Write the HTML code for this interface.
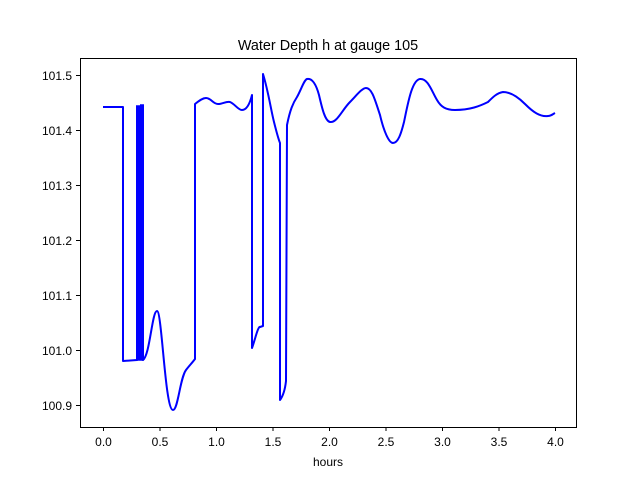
<!DOCTYPE html>
<html><head><style>body{margin:0;background:#fff}svg{display:block;font-family:"Liberation Sans","DejaVu Sans",sans-serif}</style></head>
<body>
<svg width="640" height="480" viewBox="0 0 640 480">
<rect width="640" height="480" fill="#fff"/>
<path d="M103,107 L123,107 L123,361 L137,360 L137,106 L138,360 L139,106 L140,360 L141,105 L142,360 L143,105 L143,360 C150,355 152,311 157,311 C162,311 165,410 173,410 C178,410 180,378 186,370 C189,366 192,363 195,359 L195,104 C200,100 203,98 206,98 C211,98 213,104 218,104 C223,104 226,101 230,102 C235,104 238,110 242,110 C247,110 250,103 252,95 L252,348 C255,340 258,326 260,327 L263,326 L263,74 C268,90 271,110 274,122 C276,130 278,138 280,143 L280,400 C283,396 285,390 286,381 L287,125 C290,110 293,103 297,97 C301,90 304,80 307,79 C312,78 316,84 319,95 C322,108 325,121 330,122 C337,123 342,110 350,102 C356,96 362,88 366,88 C372,88 375,100 380,115 C384,132 389,143 393,143 C398,143 401,134 404,122 C408,103 412,80 420,79 C428,78 432,92 437,100 C441,107 446,110 455,110 C470,110 480,106 488,102 C493,97 497,93 503,92 C510,92 517,96 525,104 C533,112 540,117 548,116 C551,116 553,114 555,113" fill="none" stroke="#0000ff" stroke-width="2" stroke-linejoin="round"/>
<rect x="80.5" y="58.5" width="496" height="369" fill="none" stroke="#000" stroke-width="1"/>
<g stroke="#000" stroke-width="1">
<line x1="103.5" y1="427" x2="103.5" y2="431"/><line x1="160" y1="427" x2="160" y2="431"/><line x1="216.5" y1="427" x2="216.5" y2="431"/><line x1="273" y1="427" x2="273" y2="431"/><line x1="329.5" y1="427" x2="329.5" y2="431"/><line x1="386" y1="427" x2="386" y2="431"/><line x1="442.5" y1="427" x2="442.5" y2="431"/><line x1="499" y1="427" x2="499" y2="431"/><line x1="555.5" y1="427" x2="555.5" y2="431"/>
<line x1="76" y1="75.5" x2="80" y2="75.5"/><line x1="76" y1="130.5" x2="80" y2="130.5"/><line x1="76" y1="185.5" x2="80" y2="185.5"/><line x1="76" y1="240.5" x2="80" y2="240.5"/><line x1="76" y1="295.5" x2="80" y2="295.5"/><line x1="76" y1="350.5" x2="80" y2="350.5"/><line x1="76" y1="405.5" x2="80" y2="405.5"/>
</g>
<g font-size="12" fill="#000" text-anchor="middle">
<text x="103.5" y="446">0.0</text><text x="160" y="446">0.5</text><text x="216.5" y="446">1.0</text><text x="273" y="446">1.5</text><text x="329.5" y="446">2.0</text><text x="386" y="446">2.5</text><text x="442.5" y="446">3.0</text><text x="499" y="446">3.5</text><text x="555.5" y="446">4.0</text>
<text x="328" y="466">hours</text>
</g>
<g font-size="12" fill="#000" text-anchor="end">
<text x="72" y="80">101.5</text><text x="72" y="135">101.4</text><text x="72" y="190">101.3</text><text x="72" y="245">101.2</text><text x="72" y="300">101.1</text><text x="72" y="355">101.0</text><text x="72" y="410">100.9</text>
</g>
<text x="328" y="50" font-size="14.4" text-anchor="middle">Water Depth h at gauge 105</text>
</svg>
</body></html>
